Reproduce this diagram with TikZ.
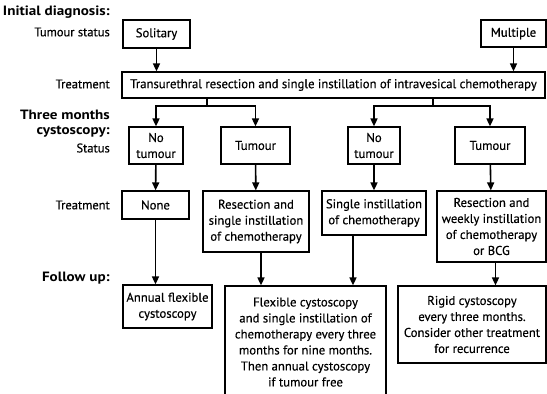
\documentclass[tikz,border=0pt]{standalone}
\usepackage{fontspec}
\setmainfont[FakeBold=0.4]{PT Sans}
\newfontfamily\heavyfont[FakeStretch=1.12]{PT Sans}
\usetikzlibrary{arrows.meta}
\begin{document}
\begin{tikzpicture}[x=1pt,y=-1pt,
  box/.style={draw, line width=1.2pt, align=center, inner sep=2pt,
    font=\fontsize{12.7}{16}\selectfont},
  arr/.style={line width=1.6pt, -{Triangle[length=8pt,width=7pt]}},
  ln/.style={line width=1.6pt},
  lab/.style={anchor=east, inner sep=0pt, font=\fontsize{12.5}{14}\selectfont},
  blab/.style={anchor=east, inner sep=0pt, font=\fontsize{13.5}{14}\heavyfont\bfseries}]
\clip (0,0) rectangle (547,394);
\fill[white] (0,0) rectangle (547,394);

% left labels
\node[blab] (l1) at (110,12) {Initial diagnosis:};
\node[lab] (l2) at (110,32) {Tumour status};
\node[lab] (l3) at (110,84) {Treatment};
\node[blab] (l4) at (110,115) {Three months};
\node[blab] (l5) at (110,132) {cystoscopy:};
\node[lab] (l6) at (110,148) {Status};
\node[lab] (l7) at (110,205) {Treatment};
\node[blab] (l8) at (110,278) {Follow up:};

% boxes
\node[box, minimum width=67, minimum height=28] (sol) at (156.5,34) {Solitary};
\node[box, minimum width=65, minimum height=27] (mul) at (513.5,33.5) {Multiple};
\node[box, minimum width=423, minimum height=26] (trt) at (333.5,85) {Transurethral resection and single instillation of intravesical chemotherapy};
\node[box, minimum width=54, minimum height=37] (nt1) at (156,145.5) {No\\tumour};
\node[box, minimum width=69, minimum height=37] (t1) at (255.5,145.5) {Tumour};
\node[box, minimum width=52, minimum height=37] (nt2) at (374,145.5) {No\\tumour};
\node[box, minimum width=70, minimum height=37] (t2) at (490,145.5) {Tumour};
\node[box, minimum width=67, minimum height=28] (none) at (155.5,205) {None};
\node[box, minimum width=106, minimum height=61] (res1) at (256,221.5) {Resection and\\single instillation\\of chemotherapy};
\node[box, minimum width=104, minimum height=44] (sing) at (374,213) {Single instillation\\of chemotherapy};
\node[box, minimum width=109, minimum height=71] (res2) at (491.5,226.5) {Resection and\\weekly instillation\\of chemotherapy\\or BCG};
\node[box, minimum width=89, minimum height=43] (ann) at (167.5,306.5) {Annual flexible\\cystoscopy};
\node[box, minimum width=161, minimum height=112] (flex) at (305.5,342) {Flexible cystoscopy\\and single instillation of\\chemotherapy every three\\months for nine months.\\Then annual cystoscopy\\if tumour free};
\node[box, minimum width=148, minimum height=77] (rig) at (472,324.5) {Rigid cystoscopy\\every three months.\\Consider other treatment\\for recurrence};

% connectors
\draw[arr] (sol) -- (sol |- trt.north);
\draw[arr] (mul) -- (mul |- trt.north);

\coordinate (bl) at (207,106);
\coordinate (br) at (433,106);
\draw[ln] (bl |- trt.south) -- (bl);
\draw[ln] (br |- trt.south) -- (br);
\draw[arr] (bl) -| (nt1.north);
\draw[arr] (bl) -| (t1.north);
\draw[arr] (br) -| (nt2.north);
\draw[arr] (br) -| (t2.north);

\draw[arr] (nt1) -- (none);
\draw[arr] (t1) -- (res1);
\draw[arr] (nt2) -- (sing);
\draw[arr] (t2) -- (res2);

\draw[arr] (none.south) -- (none.south |- ann.north);
\draw[arr] ([xshift=5pt]res1.south) -- ([xshift=5pt]res1.south |- flex.north);
\draw[arr] ([xshift=-21pt]sing.south) -- ([xshift=-21pt]sing.south |- flex.north);
\draw[arr] ([xshift=4pt]res2.south) -- ([xshift=4pt]res2.south |- rig.north);
\end{tikzpicture}
\end{document}
